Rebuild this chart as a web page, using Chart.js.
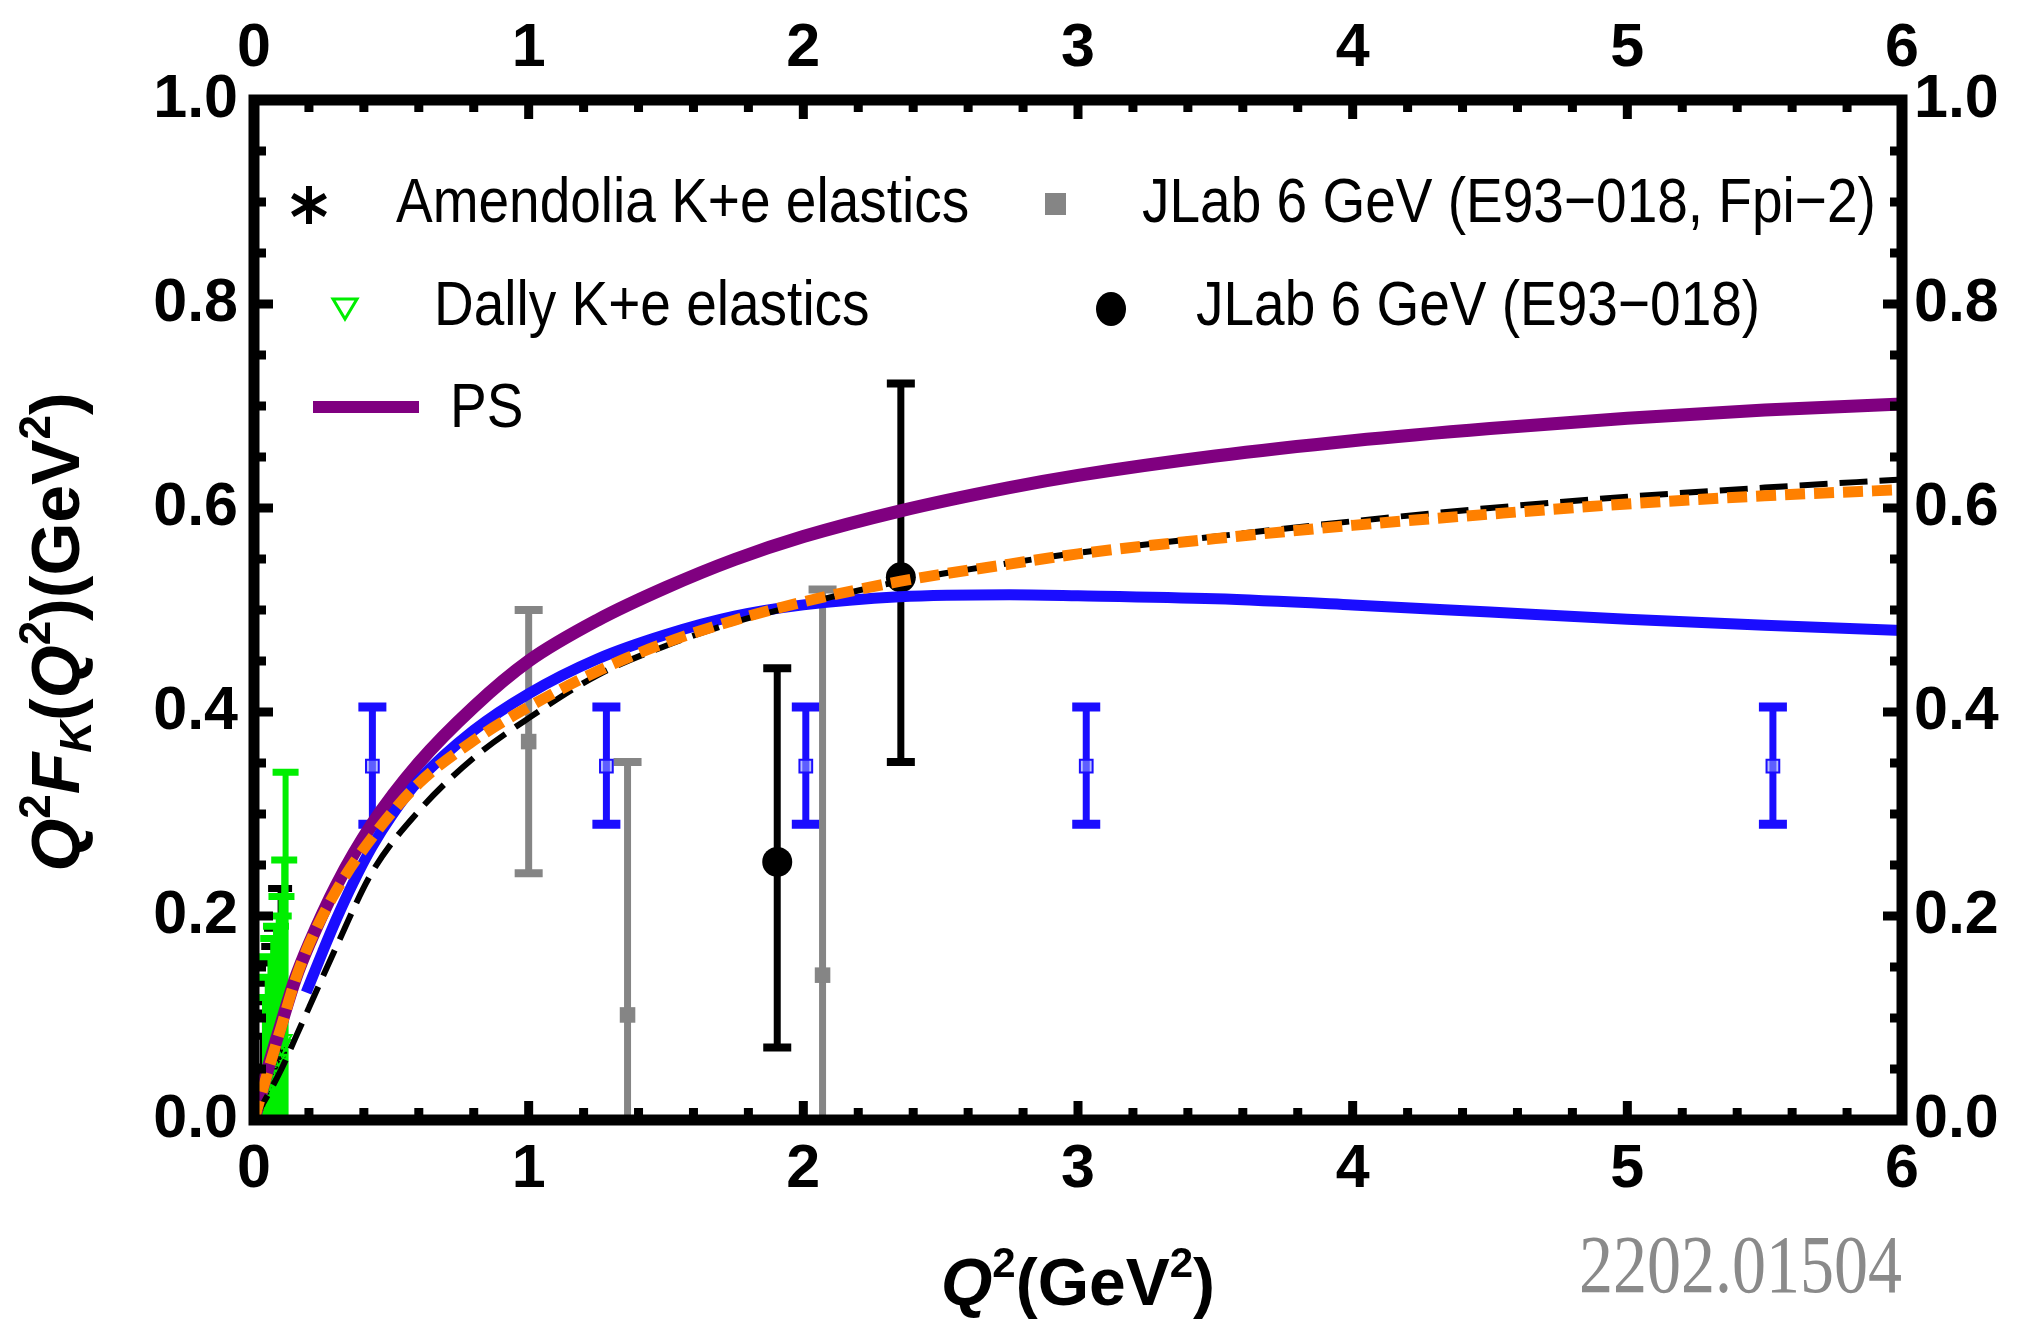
<!DOCTYPE html>
<html>
<head>
<meta charset="utf-8">
<script src="https://cdn.jsdelivr.net/npm/chart.js@4.4.0/dist/chart.umd.min.js"></script>
<style>
html,body{margin:0;padding:0;background:#fff;}
#wrap{width:2018px;height:1320px;position:relative;}
</style>
</head>
<body>
<div id="wrap"><canvas id="c" width="2018" height="1320"></canvas></div>
<script>
// ---------- tick labels ----------
const xTickValues = [0, 1, 2, 3, 4, 5, 6];
const yTickValues = [0.0, 0.2, 0.4, 0.6, 0.8, 1.0];

// ---------- theory curves ----------
const psQ2  = [0,0.05,0.1,0.15,0.2,0.3,0.43,0.6,0.8,1.0,1.25,1.5,1.75,2.0,2.35,2.75,3.0,3.5,4.0,4.5,5.0,5.5,6.0];
const psVal = [0,0.05,0.095,0.138,0.172,0.23,0.29,0.35,0.405,0.45,0.49,0.522,0.5495,0.572,0.597,0.62,0.632,0.651,0.666,0.678,0.688,0.696,0.702];

const blueQ2  = [0.19,0.25,0.3,0.36,0.43,0.5,0.6,0.8,1.0,1.25,1.5,1.75,2.0,2.35,2.75,3.0,3.5,4.0,4.5,5.0,5.5,6.0];
const blueVal = [0.125,0.165,0.197,0.232,0.268,0.298,0.333,0.382,0.418,0.452,0.476,0.494,0.505,0.513,0.515,0.514,0.511,0.505,0.498,0.491,0.485,0.48];

const orangeQ2  = [0,0.05,0.1,0.15,0.2,0.3,0.43,0.6,0.8,1.0,1.25,1.5,1.75,2.0,2.35,2.75,3.0,3.5,4.0,4.5,5.0,5.5,6.0];
const orangeVal = [0,0.047,0.092,0.137,0.172,0.225,0.277,0.33,0.372,0.405,0.44,0.468,0.49,0.508,0.528,0.545,0.555,0.57,0.583,0.594,0.604,0.612,0.618];

const dashQ2  = [0,0.1,0.15,0.2,0.3,0.43,0.6,0.8,1.0,1.25,1.5,1.75,2.0,2.35,2.75,3.0,3.5,4.0,4.5,5.0,5.5,6.0];
const dashVal = [0,0.05,0.08,0.11,0.17,0.243,0.303,0.355,0.394,0.436,0.465,0.488,0.506,0.528,0.546,0.556,0.572,0.587,0.6,0.611,0.62,0.628];

// ---------- data ----------
const amendoliaQ2  = [0.015,0.02,0.03,0.038,0.045,0.052,0.06,0.07,0.08,0.095];
const amendoliaVal = [0.014,0.018,0.026,0.032,0.038,0.044,0.05,0.056,0.06,0.066];
const amendoliaLo  = [0.0,0.0,0.0,0.0,0.0,0.0,0.0,0.0,0.0,0.0];
const amendoliaHi  = [0.04,0.052,0.082,0.105,0.116,0.134,0.154,0.17,0.188,0.227];

const dallyQ2  = [0.04,0.05,0.06,0.07,0.08,0.09,0.1,0.11,0.115];
const dallyVal = [0.03,0.035,0.04,0.045,0.05,0.06,0.07,0.075,0.08];
const dallyLo  = [0.0,0.0,0.0,0.0,0.0,0.0,0.0,0.0,0.0];
const dallyHi  = [0.12,0.14,0.16,0.178,0.19,0.2,0.219,0.255,0.341];

const fpi2Q2  = [1.0, 1.36, 2.07];
const fpi2Val = [0.371, 0.103, 0.142];
const fpi2Lo  = [0.242, -0.145, -0.236];
const fpi2Hi  = [0.5, 0.351, 0.52];

const e93Q2  = [1.905, 2.355];
const e93Val = [0.253, 0.532];
const e93Lo  = [0.071, 0.351];
const e93Hi  = [0.443, 0.722];

const projQ2  = [0.431, 1.283, 2.009, 3.03, 5.53];
const projVal = [0.347, 0.347, 0.347, 0.347, 0.347];
const projLo  = [0.29, 0.29, 0.29, 0.29, 0.29];
const projHi  = [0.405, 0.405, 0.405, 0.405, 0.405];

const legendLabels = [
  'Amendolia K+e elastics',
  'JLab 6 GeV (E93\u2212018, Fpi\u22122)',
  'Dally K+e elastics',
  'JLab 6 GeV (E93\u2212018)',
  'PS'
];
const watermark = '2202.01504';

// ---------- helpers ----------
const FONT = "'Liberation Sans', Arial, Helvetica, sans-serif";
const pts = (xs, ys) => xs.map((x, i) => ({x: x, y: ys[i]}));

const errorBars = {
  id: 'errorBars',
  beforeDatasetsDraw(chart) {
    const {ctx, chartArea: a, scales: {x, y}} = chart;
    ctx.save();
    ctx.beginPath();
    ctx.rect(a.left, a.top, a.width, a.height);
    ctx.clip();
    const list = chart.data.datasets.filter(d => d.errLo).slice().reverse();
    list.forEach(ds => {
      ctx.strokeStyle = ds.errColor;
      ctx.lineCap = 'butt';
      ds.data.forEach((p, i) => {
        const px = x.getPixelForValue(p.x);
        const y1 = y.getPixelForValue(ds.errLo[i]);
        const y2 = y.getPixelForValue(ds.errHi[i]);
        ctx.lineWidth = ds.errWidth;
        ctx.beginPath();
        ctx.moveTo(px, y1); ctx.lineTo(px, y2);
        ctx.stroke();
        const hw = ds.capHalf;
        ctx.lineWidth = ds.capWidth;
        ctx.beginPath();
        ctx.moveTo(px - hw, y1); ctx.lineTo(px + hw, y1);
        ctx.moveTo(px - hw, y2); ctx.lineTo(px + hw, y2);
        ctx.stroke();
      });
    });
    ctx.restore();
  }
};

const frameTicks = {
  id: 'frameTicks',
  afterDatasetsDraw(chart) {
    const {ctx, chartArea: a, scales: {x, y}} = chart;
    ctx.save();
    ctx.fillStyle = '#000';
    const tw = 9;
    for (let i = 0; i <= 30; i++) {
      const px = x.getPixelForValue(i * 0.2);
      const len = (i % 5 === 0) ? 19 : 12;
      ctx.fillRect(px - tw / 2, a.bottom - len, tw, len);
      ctx.fillRect(px - tw / 2, a.top, tw, len);
    }
    for (let i = 0; i <= 20; i++) {
      const py = y.getPixelForValue(i * 0.05);
      const len = (i % 4 === 0) ? 19 : 12;
      ctx.fillRect(a.left, py - tw / 2, len, tw);
      ctx.fillRect(a.right - len, py - tw / 2, len, tw);
    }
    ctx.strokeStyle = '#000';
    ctx.lineWidth = 11;
    ctx.strokeRect(a.left, a.top, a.width, a.height);
    ctx.restore();
  }
};

function drawRich(ctx, segs, cx, baseline) {
  let total = 0;
  segs.forEach(s => { ctx.font = s.f; s.w = ctx.measureText(s.t).width; total += s.w; });
  let xx = cx - total / 2;
  segs.forEach(s => { ctx.font = s.f; ctx.fillText(s.t, xx, baseline + (s.dy || 0)); xx += s.w; });
}
function tallText(ctx, t, x, y, sy) {
  ctx.save();
  ctx.translate(x, y);
  ctx.scale(1, sy);
  ctx.fillText(t, 0, 0);
  ctx.restore();
}

const overlay = {
  id: 'overlay',
  afterDraw(chart) {
    const ctx = chart.ctx;
    ctx.save();
    ctx.fillStyle = '#000';
    ctx.textBaseline = 'middle';
    ctx.textAlign = 'left';
    ctx.font = '55px ' + FONT;
    // legend texts
    tallText(ctx, legendLabels[0], 396, 205, 1.15);
    tallText(ctx, legendLabels[1], 1142, 205, 1.15);
    tallText(ctx, legendLabels[2], 434, 308, 1.15);
    tallText(ctx, legendLabels[3], 1196, 308, 1.15);
    tallText(ctx, legendLabels[4], 450, 410, 1.15);
    // legend symbols
    ctx.strokeStyle = '#000';
    ctx.lineWidth = 6;
    ctx.beginPath();
    for (let k = 0; k < 3; k++) {
      const ang = Math.PI / 2 + k * Math.PI / 3;
      const r = 19;
      ctx.moveTo(309 + r * Math.cos(ang), 205 + r * Math.sin(ang));
      ctx.lineTo(309 - r * Math.cos(ang), 205 - r * Math.sin(ang));
    }
    ctx.stroke();
    ctx.fillStyle = '#858585';
    ctx.fillRect(1045, 193, 21, 22);
    ctx.strokeStyle = '#00ee00';
    ctx.lineWidth = 3;
    ctx.beginPath();
    ctx.moveTo(333, 299); ctx.lineTo(357, 299); ctx.lineTo(345, 319); ctx.closePath();
    ctx.stroke();
    ctx.fillStyle = '#000';
    ctx.beginPath(); ctx.ellipse(1111, 309, 15, 17, 0, 0, Math.PI * 2); ctx.fill();
    ctx.strokeStyle = '#800080';
    ctx.lineWidth = 12;
    ctx.beginPath(); ctx.moveTo(313, 407); ctx.lineTo(419, 407); ctx.stroke();

    // axis titles
    ctx.fillStyle = '#000';
    ctx.textBaseline = 'alphabetic';
    const B = 'bold 66px ' + FONT, BI = 'italic bold 66px ' + FONT, S = 'bold 42px ' + FONT;
    drawRich(ctx, [
      {t: 'Q', f: BI}, {t: '2', f: S, dy: -28}, {t: '(GeV', f: B}, {t: '2', f: S, dy: -28}, {t: ')', f: B}
    ], 1078, 1305);
    const B2 = 'bold 68px ' + FONT, BI2 = 'italic bold 68px ' + FONT, S2 = 'bold 44px ' + FONT, SI2 = 'italic bold 44px ' + FONT;
    ctx.save();
    ctx.translate(79, 632);
    ctx.rotate(-Math.PI / 2);
    drawRich(ctx, [
      {t: 'Q', f: BI2}, {t: '2', f: S2, dy: -29}, {t: 'F', f: BI2}, {t: 'K', f: SI2, dy: 12},
      {t: '(', f: B2}, {t: 'Q', f: BI2}, {t: '2', f: S2, dy: -29}, {t: ')(GeV', f: B2}, {t: '2', f: S2, dy: -29}, {t: ')', f: B2}
    ], 0, 0);
    ctx.restore();

    // watermark
    ctx.fillStyle = '#8a8a8a';
    ctx.font = "68px 'Liberation Serif', 'Times New Roman', serif";
    ctx.textAlign = 'right';
    ctx.textBaseline = 'middle';
    tallText(ctx, watermark, 1902, 1271, 1.2);
    ctx.restore();
  }
};

const tickFont = {family: FONT, size: 61, weight: 'bold'};
function xAxis(pos, h, pad) {
  return {
    type: 'linear', position: pos, min: 0, max: 6,
    afterBuildTicks: s => { s.ticks = xTickValues.map(v => ({value: v})); },
    afterFit: s => { s.height = h; },
    grid: {display: false, drawTicks: false},
    border: {display: false},
    ticks: {padding: pad, font: tickFont, color: '#000', maxRotation: 0, autoSkip: false,
            callback: v => String(v)}
  };
}
function yAxis(pos, w, pad) {
  return {
    type: 'linear', position: pos, min: 0, max: 1,
    afterBuildTicks: s => { s.ticks = yTickValues.map(v => ({value: v})); },
    afterFit: s => { s.width = w; },
    grid: {display: false, drawTicks: false},
    border: {display: false},
    ticks: {padding: pad, font: tickFont, color: '#000', autoSkip: false,
            callback: v => Number(v).toFixed(1)}
  };
}

const curve = (data, color, width, dash, order) => ({
  data, showLine: true, pointRadius: 0, borderColor: color, backgroundColor: color,
  borderWidth: width, borderDash: dash, cubicInterpolationMode: 'monotone', order,
  xAxisID: 'x', yAxisID: 'y', borderCapStyle: 'butt'
});

new Chart(document.getElementById('c'), {
  type: 'scatter',
  data: {
    datasets: [
      curve(pts(orangeQ2, orangeVal), '#ff8000', 11, [20, 9], 1),
      curve(pts(dashQ2, dashVal), '#000000', 6, [28, 12], 2),
      curve(pts(blueQ2, blueVal), '#1a0dff', 11, [], 3),
      curve(pts(psQ2, psVal), '#800080', 13, [], 4),
      {
        label: legendLabels[3], data: pts(e93Q2, e93Val), order: 5,
        pointStyle: 'circle', pointRadius: 15, backgroundColor: '#000', borderColor: '#000', borderWidth: 0,
        errLo: e93Lo, errHi: e93Hi, errColor: '#000', errWidth: 7, capWidth: 8, capHalf: 14
      },
      {
        label: legendLabels[1], data: pts(fpi2Q2, fpi2Val), order: 6,
        pointStyle: 'rect', pointRadius: 11, backgroundColor: '#858585', borderColor: '#858585', borderWidth: 0,
        errLo: fpi2Lo, errHi: fpi2Hi, errColor: '#858585', errWidth: 7, capWidth: 8, capHalf: 14
      },
      {
        label: 'projection', data: pts(projQ2, projVal), order: 7,
        pointStyle: 'rect', pointRadius: 9, backgroundColor: 'rgba(140,150,255,0.6)', borderColor: '#1a0dff', borderWidth: 2,
        errLo: projLo, errHi: projHi, errColor: '#1a0dff', errWidth: 7, capWidth: 9, capHalf: 14
      },
      {
        label: legendLabels[2], data: pts(dallyQ2, dallyVal), order: 8,
        pointStyle: 'triangle', rotation: 180, pointRadius: 7, backgroundColor: 'rgba(0,0,0,0)', borderColor: '#00ee00', borderWidth: 2,
        errLo: dallyLo, errHi: dallyHi, errColor: '#00ee00', errWidth: 6, capWidth: 7, capHalf: 13
      },
      {
        label: legendLabels[0], data: pts(amendoliaQ2, amendoliaVal), order: 9,
        pointStyle: 'star', pointRadius: 7, backgroundColor: '#000', borderColor: '#000', borderWidth: 2,
        errLo: amendoliaLo, errHi: amendoliaHi, errColor: '#000', errWidth: 5, capWidth: 7, capHalf: 12
      }
    ]
  },
  options: {
    responsive: false,
    animation: false,
    devicePixelRatio: 1,
    layout: {padding: 0},
    plugins: {legend: {display: false}, tooltip: {enabled: false}, title: {display: false}},
    scales: {
      x: xAxis('bottom', 200, 14),
      x2: xAxis('top', 100, 14),
      y: yAxis('left', 254, 16),
      y2: yAxis('right', 116, 12)
    }
  },
  plugins: [errorBars, frameTicks, overlay]
});
</script>
</body>
</html>
